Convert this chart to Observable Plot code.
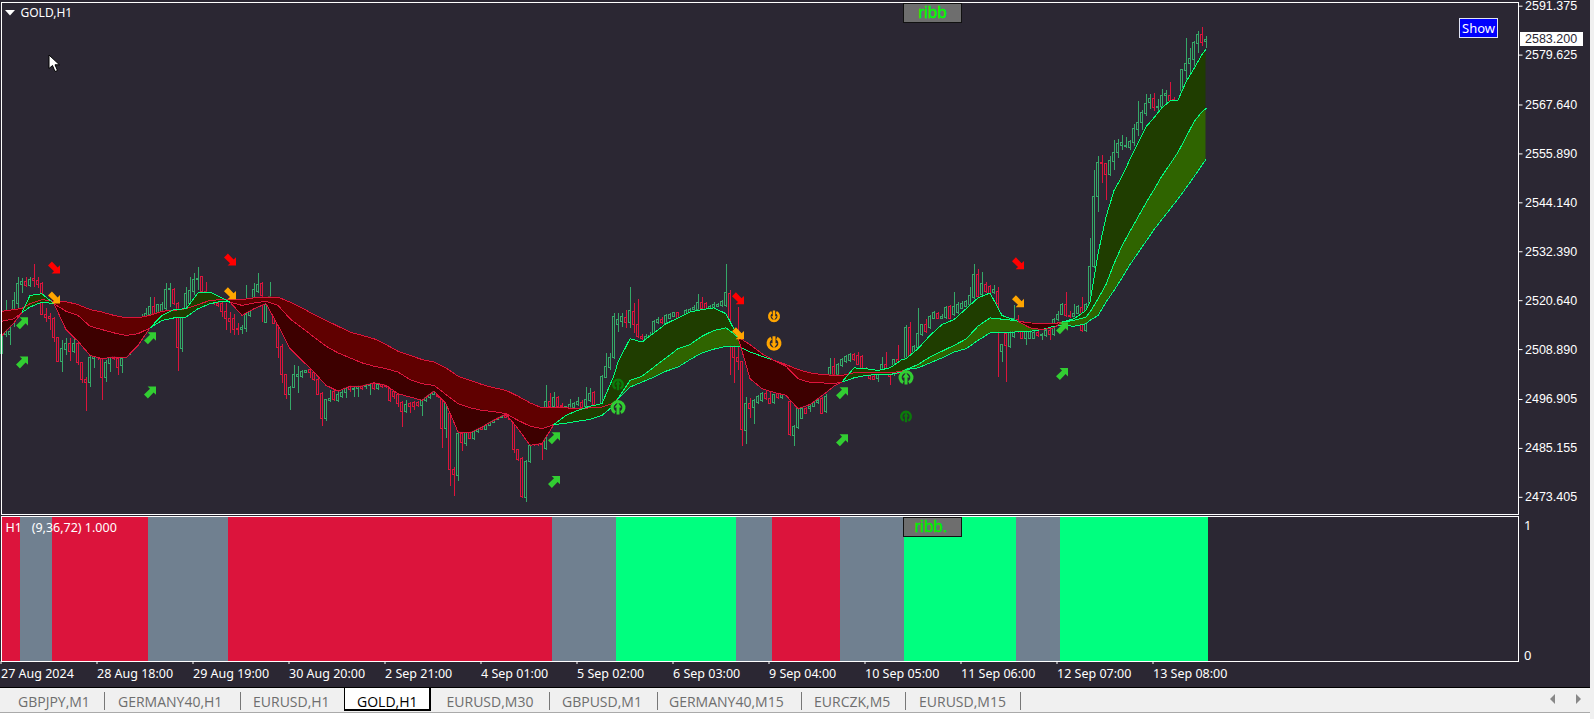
<!DOCTYPE html>
<html>
<head>
<meta charset="utf-8">
<script src="https://cdn.jsdelivr.net/npm/d3@7"></script>
<script src="https://cdn.jsdelivr.net/npm/@observablehq/plot@0.6"></script>
<style>
html,body{margin:0;padding:0;background:#fff;width:1594px;height:719px;overflow:hidden;font-family:"Noto Sans",sans-serif}
#stage{position:absolute;left:0;top:0;width:1590px;height:687px;background:#2b2733}
#stage svg{position:absolute;display:block;max-width:none}
.lab{position:absolute;white-space:nowrap}
#tabs{position:absolute;left:0;top:687px;width:1590px;height:26px;background:#f0f0f0;border-top:1px solid #000;border-bottom:1px solid #aaa;box-sizing:border-box}
#strip{position:absolute;left:1590px;top:0;width:4px;height:719px;background:#f0f0f0}
.tab{position:absolute;top:4px;font:14px "Open Sans",sans-serif;color:#6e6e6e;white-space:nowrap;line-height:19px}
.sep{position:absolute;top:4px;width:1px;height:18px;background:#777}
</style>
</head>
<body>
<div id="stage"></div>
<div id="tabs"></div>
<div id="strip"></div>
<script>
// Candles [open, high, low, close], one small list per 24-bar stretch of the time axis
const aug27 = [[2507.9,2518.3,2507.9,2512.3],[2512.3,2520.7,2511.9,2516.3],[2512.3,2516,2509.9,2513.1],[2518.3,2522.7,2514.3,2520.5],[2519.9,2526.1,2517.9,2524.7],[2524.5,2525.9,2522.3,2525.1],[2525.1,2526.1,2523.9,2524.1],[2524.1,2526.1,2523.9,2525.7],[2525.8,2529.3,2523.9,2525.3],[2525.3,2526.3,2523.5,2524.5],[2524.7,2524.9,2517.1,2517.1],[2517.3,2518.7,2515.5,2516.5],[2516.7,2517.5,2513.5,2516.3],[2516.3,2516.5,2510.5,2511.7],[2511.7,2511.9,2505.7,2505.9],[2505.9,2511.1,2503.5,2509.1],[2508.7,2511.5,2507.5,2510.3],[2510.3,2511.5,2506.1,2508.3],[2508.3,2511.5,2507.9,2510.3],[2510.3,2511.9,2505.1,2505.7],[2505.7,2505.8,2500.7,2501.7],[2501.7,2502.3,2493.9,2500.9],[2500.9,2507.5,2499.7,2506.9],[2506.7,2507.9,2504.3,2507.5]];
const aug28 = [[2507.9,2508.3,2506.3,2507.1],[2506.7,2507.5,2496.7,2502.1],[2502.1,2506.3,2500.9,2505.7],[2505.5,2507.3,2503.5,2506.9],[2507.3,2507.5,2506.3,2506.7],[2506.7,2507.1,2502.7,2504.5],[2504.9,2507.1,2503.1,2506.7],[2511.1,2512,2507.5,2507.9],[2508,2512,2507.5,2511],[2511,2513.5,2510,2513],[2513,2515,2512,2514.5],[2515,2517.2,2514,2516.5],[2516.7,2518.7,2515.5,2517.5],[2517.3,2521.5,2516.5,2519.1],[2519.1,2521.5,2517,2517.5],[2517.5,2519.8,2517,2519.5],[2517.5,2520.3,2517,2519.5],[2518.7,2524.7,2518.1,2523.1],[2523.1,2524.7,2519.1,2523.5],[2523.3,2523.5,2519.5,2519.9],[2519.9,2520.3,2503.7,2509.3],[2509.1,2518,2508.3,2517.7],[2517.5,2523.9,2517,2522.3],[2519.9,2526.3,2519,2522.9]];
const aug29 = [[2522.7,2527.1,2522,2525.5],[2525.5,2528.7,2523.1,2525.9],[2526.3,2526.5,2522.3,2522.7],[2522.7,2524.9,2521.3,2521.3],[2521.3,2522,2520,2520.5],[2520.5,2521,2519.5,2520],[2519.9,2520.3,2519.1,2519.3],[2519.9,2520.5,2516.7,2517.9],[2517.9,2519.9,2513.5,2516.3],[2516.3,2517.9,2512.7,2515.5],[2516.3,2517.3,2512.3,2513.7],[2513.9,2515.1,2512.3,2513.7],[2513.7,2514.7,2512.5,2514.1],[2513.9,2524.3,2513.1,2517.1],[2516.9,2520.9,2516.5,2518.7],[2521.3,2524.7,2520.5,2523.1],[2522.7,2527.1,2522.3,2524.5],[2524.7,2524.9,2515.5,2521.7],[2515.3,2520.5,2515.1,2519.7],[2519.9,2525.1,2519.5,2521.5],[2518.7,2520,2515,2515.1],[2516.7,2517,2506.7,2509.3],[2509.5,2510,2500.7,2502.9],[2502.9,2503,2496.9,2497.9]];
const aug30 = [[2497.9,2500,2494.3,2499.7],[2499.7,2505.1,2499.5,2502.7],[2502.3,2504.9,2498.3,2502.7],[2502.3,2503.9,2501.9,2503.5],[2503.3,2503.9,2503.1,2503.7],[2503.9,2504.3,2501.9,2503.3],[2503.3,2503.9,2501.3,2501.5],[2501.7,2503.1,2497.9,2498.1],[2498.3,2498.5,2490.3,2492.3],[2492.1,2497,2491.5,2496.7],[2496.5,2499.1,2496.3,2497.1],[2498.7,2499.1,2496.5,2496.9],[2496.5,2499,2496.1,2498.1],[2497.5,2499.1,2497.1,2498.5],[2498.5,2500.5,2497.1,2500.1],[2499.9,2500.3,2498.6,2499.1],[2499.1,2499.9,2497.5,2499.5],[2499.5,2500.3,2497.3,2499.9],[2500.1,2500.5,2499.1,2499.5],[2499.9,2500.7,2499.2,2500.3],[2500.1,2501,2497.9,2500.5],[2500.7,2501,2499,2499.5],[2499.5,2501,2499,2500.5],[2500.5,2501,2499.5,2500]];
const sep2 = [[2500.7,2501,2499.5,2499.9],[2499.5,2500.7,2496.3,2496.5],[2498.7,2499,2497,2497.5],[2497.9,2498.3,2495.1,2495.9],[2496.1,2496.5,2490.1,2493.9],[2493.9,2496.7,2493.5,2495.7],[2495.9,2496.2,2493.5,2495.1],[2496.1,2496.5,2494.3,2495.1],[2496.1,2496.4,2495,2495.3],[2495.3,2496.9,2492.9,2496.5],[2496.5,2497.8,2496.2,2497.3],[2497.3,2498.3,2497,2498],[2498,2499,2497.8,2498.6],[2498.9,2499.1,2497.1,2497.5],[2497.5,2497.7,2485.1,2489.9],[2489.7,2496.3,2487.5,2495.9],[2493.5,2495.5,2475.9,2479.9],[2479.9,2480.5,2473.5,2478.7],[2478.5,2489.1,2477.3,2488.7],[2488.7,2489,2484.3,2486.5],[2486.1,2489.2,2485.7,2488.9],[2488.9,2489.5,2487.2,2487.5],[2487.5,2489.5,2487,2489],[2489,2490.5,2488.7,2490]];
const sep4 = [[2490,2490.5,2489.5,2489.6],[2489.6,2491,2489.4,2490.6],[2490.6,2491.6,2490.4,2491.2],[2491.2,2492.5,2491.2,2492],[2492,2493,2491.8,2492.5],[2492.5,2493.2,2492.3,2493],[2493,2493.2,2492.3,2492.5],[2492.5,2492.8,2491.8,2492],[2491.1,2491.9,2483.9,2484.7],[2484.7,2485,2482,2482.3],[2482.5,2483,2473.1,2473.5],[2473.3,2482.3,2472.1,2481.9],[2481.9,2486,2481.5,2485.7],[2486.3,2487,2485.5,2486],[2486.5,2487,2485.5,2485.9],[2486.3,2486.6,2482.3,2485.9],[2485.1,2500.3,2484.7,2496.3],[2496.3,2498.3,2494.8,2495.1],[2495.1,2498.5,2494.8,2497.3],[2497.3,2497.6,2494.9,2495.1],[2495.3,2495.9,2494.9,2495],[2494.9,2495.3,2494.8,2495.1],[2494.7,2496.9,2494.5,2495.7],[2494.9,2496.3,2494.7,2495.9]];
const sep5 = [[2495.5,2497.3,2495.2,2496.3],[2496.1,2496.7,2494.7,2494.9],[2495.1,2499.7,2494.9,2496.9],[2496.5,2499.5,2496.2,2498.3],[2498.5,2498.9,2495.2,2495.5],[2495.3,2495.8,2495.2,2495.5],[2495.5,2502.7,2495.2,2502.3],[2502.1,2507.9,2501.9,2504.7],[2504.5,2507.9,2503.9,2506.9],[2506.9,2517.5,2506.5,2516.7],[2514.9,2517.5,2513,2515.9],[2515.5,2517.5,2514.3,2516.7],[2516.5,2518.3,2513.9,2515.3],[2515.3,2523.7,2513.9,2518.1],[2517.9,2519.9,2512.7,2514.9],[2514.9,2520.9,2511.5,2511.9],[2511.9,2512.5,2511,2511.5],[2511.5,2512.5,2511,2512],[2511.8,2513,2511.4,2512.2],[2512.3,2515.9,2512,2515.5],[2515.3,2516.7,2515,2515.9],[2516.1,2516.5,2515,2515.3],[2514.9,2517.3,2514.6,2516.9],[2516.3,2517.5,2516,2517.1]];
const sep6 = [[2516.7,2517.9,2516.5,2517.7],[2517.7,2517.9,2515.7,2515.9],[2516.7,2517,2515.7,2515.9],[2516.1,2518.5,2515.8,2518.1],[2516.7,2518.8,2516.5,2518.5],[2518.3,2519.5,2517.8,2518.9],[2518.5,2522.1,2518.3,2520.1],[2520.1,2521.5,2518.4,2518.7],[2519.9,2520.3,2518.2,2518.5],[2518.5,2519.4,2518.3,2519.1],[2518.7,2520.1,2518.5,2519.5],[2519.1,2520,2518.9,2519.7],[2519.3,2520.7,2519,2520.3],[2519.3,2529.3,2519,2522.5],[2522.3,2523.1,2502.7,2512.7],[2509.5,2510,2500.7,2506.9],[2506.9,2518.9,2503.9,2505.9],[2505.9,2506,2485.5,2489.5],[2489.3,2497.5,2486.1,2495.9],[2495.9,2497.1,2492.3,2494.7],[2494.9,2496.9,2490.9,2496.5],[2496.1,2497.9,2495.7,2497.5],[2496.5,2498.7,2496.2,2498.3],[2498.3,2498.8,2496.7,2497.1]];
const sep9 = [[2497.1,2498.7,2495.6,2495.9],[2496.1,2498.2,2495.8,2497.9],[2498.3,2498.7,2497,2497.3],[2497.3,2499,2497,2498.7],[2498.7,2499.3,2498.4,2499],[2496.3,2497,2487.9,2488.3],[2488.1,2490.7,2485.7,2490.3],[2490.1,2495.1,2489.8,2494.7],[2492.3,2495,2492.1,2494.7],[2494.7,2495,2493.2,2493.5],[2494.7,2495.4,2493.7,2495.1],[2495.1,2496.3,2495,2496],[2496,2496.9,2495.8,2496.5],[2497.1,2497.5,2493.3,2493.3],[2493.9,2498,2493.6,2497.5],[2502.7,2506.7,2502.4,2504.5],[2504.7,2506.7,2502.4,2502.7],[2502.7,2505.5,2502.3,2505.1],[2504.9,2506.7,2504.5,2506.3],[2505.9,2507.5,2505.6,2507.1],[2506.1,2507.9,2505.8,2507.5],[2507.5,2508,2506,2506.3],[2507.3,2508.1,2505,2505.3],[2507.1,2507.4,2504,2504.3]];
const sep10 = [[2504.3,2504.6,2503.8,2504],[2502.7,2503,2501.5,2501.9],[2502.3,2502.6,2501.4,2501.7],[2501.9,2503,2500.9,2502.7],[2503.5,2507.1,2503.2,2505.3],[2505.3,2508.1,2503.4,2503.7],[2503.1,2503.4,2500.3,2502.3],[2504,2506.6,2502.5,2506.3],[2506.3,2509.9,2502.8,2503.1],[2503.1,2504.8,2502.9,2504.5],[2503.9,2514.7,2503.5,2514.1],[2514.1,2515.5,2506.6,2506.9],[2506.7,2509.8,2506.4,2509.5],[2509.3,2518.7,2509,2512.7],[2512.3,2515,2512,2514.7],[2514.7,2516.1,2512.8,2513.1],[2514.1,2517.1,2513.8,2516.7],[2516.3,2518,2516,2517.7],[2517.5,2517.9,2516,2516.3],[2516.3,2517.2,2516,2516.7],[2516.5,2519.2,2516.2,2518.9],[2519.1,2519.5,2516,2516.3],[2517.1,2522.7,2516.8,2519.1],[2517.7,2520.3,2517.4,2519.5]];
const sep11 = [[2518.7,2520.5,2518.4,2519.9],[2519.1,2520.6,2518.8,2520.3],[2519.5,2523.9,2519.2,2521.7],[2521.3,2529.3,2521,2526.9],[2526.9,2528.1,2521.2,2521.5],[2521.9,2527.3,2521.6,2524.7],[2524.5,2525.1,2522.4,2522.7],[2523.9,2524.3,2522,2522.3],[2522.5,2524.3,2522.2,2523.1],[2522.7,2523.9,2502.3,2519.9],[2508.3,2510.2,2505.9,2509.9],[2512.7,2513,2501.1,2509.7],[2509.5,2513.2,2509.2,2512.9],[2511.9,2519.5,2511.6,2516.3],[2515.9,2517.1,2512.8,2513.1],[2513.1,2513.4,2511.2,2511.5],[2511.5,2513.4,2509.9,2513.1],[2511.5,2513.5,2511.2,2513.1],[2511.5,2513.3,2511.2,2512.9],[2512.9,2513.2,2511.8,2512.1],[2512.1,2512.8,2511.1,2512.5],[2512.1,2513.6,2511.8,2513.3],[2513.3,2513.6,2511.1,2512.5],[2512.3,2516.3,2512,2515.9]];
const sep12 = [[2515.9,2518.1,2515.6,2517.1],[2517.3,2519.9,2517,2519.6],[2519.6,2522.7,2516.6,2516.9],[2517,2518.1,2516.3,2516.6],[2516.7,2519.7,2516.5,2517.5],[2517.5,2519.5,2517.2,2519.1],[2518.9,2521.5,2513.1,2513.3],[2513.3,2520,2513.1,2519.7],[2519.9,2535.5,2519.6,2528.7],[2528.7,2552,2528.4,2545.5],[2545.5,2555.2,2541.9,2553.6],[2553.6,2555.4,2548.9,2553.4],[2553.4,2553.5,2544.7,2550.8],[2550.8,2555.2,2550.4,2554.2],[2554,2559,2552,2556],[2556,2559.4,2554.8,2558.2],[2557.8,2560.4,2556.8,2558.4],[2557.5,2559.8,2557.2,2557.7],[2557.4,2559.2,2556.8,2558.7],[2558.6,2563,2557.6,2561.8],[2561.6,2568.4,2560,2563.4],[2563.4,2566.4,2561.4,2565.8],[2565.4,2570.2,2564.8,2568],[2568.2,2570.2,2566.6,2569.2]];
const sep13 = [[2569,2570.4,2566,2566.8],[2566.8,2569,2565.8,2567.2],[2567.2,2571.4,2567,2569.9],[2569.8,2571.2,2568,2570.2],[2569.9,2573.1,2568.5,2568.6],[2568.8,2569.4,2568.5,2568.6],[2568.6,2568.8,2568.5,2568.7],[2571,2576.2,2570.8,2576],[2575.8,2583.6,2573.6,2577.6],[2577.4,2581.2,2574,2578.6],[2578.4,2582.8,2576,2582.6],[2582.4,2585.4,2580,2584.4],[2584.4,2586.2,2581.6,2582.6],[2582.8,2584,2581.2,2583.2]];

// Ribbon readings [bar, slow, mid, fast]
const ribbonLate = [[0,2518.1,2515.7,2512.3],[3,2518.5,2516.3,2515.3],[5,2518.8,2517.8,2517.8],[7,2519.9,2519.1,2521.9],[10,2520.9,2520.3,2522.3],[13,2520.5,2519.9,2519.9],[16,2520.4,2518.1,2513.7],[19,2519.7,2517.1,2510.9],[22,2518.5,2514.5,2507.5],[25,2517.9,2513.7,2506.7],[28,2517.1,2512.9,2507.1],[31,2516.5,2512.3,2506.9],[34,2516.5,2512.7,2509.9],[37,2517.1,2514.1,2514.1],[40,2518.1,2515.9,2517.1],[43,2518.3,2516.5,2518.5],[46,2518.7,2516.7,2518.7],[49,2519.7,2518.7,2522.5],[52,2520.7,2519.9,2522.7],[55,2520.9,2520.5,2521.3],[57,2520.9,2520.3,2520.3],[60,2520.9,2519.5,2517.1],[63,2521.3,2520.1,2518.7],[66,2521.5,2520.5,2519.9],[69,2521.5,2519.5,2514.7],[72,2520.3,2516.3,2509.1],[75,2518.9,2514.1,2506.3],[78,2517.3,2511.9,2503.5],[81,2515.9,2509.7,2500.3],[84,2514.5,2508.1,2498.9],[87,2513.1,2506.9,2500.1],[90,2512.3,2505.7,2500.1],[93,2511.5,2504.9,2500.9],[96,2510.1,2504.3,2500.3],[99,2508.5,2503.5,2498.3]];
const ribbonFall = [[102,2507.5,2501.7,2497.5],[105,2506.5,2500.7,2496.7],[108,2505.9,2500.3,2498.9],[111,2504.5,2498.1,2495.9],[114,2502.5,2495.9,2489.1],[117,2501.5,2494.9,2488.9],[120,2500.5,2494.3,2490.3],[123,2499.7,2494,2491.9],[126,2499.1,2493.5,2493.4],[129,2497.7,2491.9,2489.9],[132,2496.1,2490.5,2485.9],[135,2494.9,2489.9,2486.3]];
const ribbonRise = [[138,2494.9,2490.9,2490.9],[141,2494.9,2491.2,2493.1],[144,2494.7,2491.7,2494.3],[147,2494.9,2492.1,2495.3],[150,2495.1,2493.1,2495.9],[153,2496.1,2495.5,2502.7],[154,2497.1,2497.1,2505.9],[157,2499.9,2501.5,2511.5],[160,2501.1,2502.5,2510.7],[163,2502.3,2504.7,2512.9],[166,2503.7,2506.9,2515.1],[169,2504.7,2509.1,2516.5],[172,2506.5,2510.1,2517.9],[175,2508.1,2512.1,2518.5],[178,2509,2513.5,2518.9],[181,2509.7,2514.1,2517.5]];
const ribbonDip = [[184,2509.7,2511.9,2511.9],[187,2508.3,2510.1,2501.9],[190,2507.3,2507.9,2499.5],[193,2506.3,2506.3,2498.6],[196,2505.3,2504.9,2497.9],[199,2504.1,2501.9,2494.7],[202,2503.3,2501,2495.7],[205,2502.9,2500.9,2497.8],[208,2502.7,2500.7,2500.1]];
const ribbonClimb = [[210,2502.7,2501.1,2501.1],[213,2503.3,2502.1,2504.5],[216,2503.3,2502.7,2504.3],[219,2503.3,2502.9,2503.9],[222,2503.3,2502.9,2504.5],[225,2503.7,2503.5,2506.5],[226,2504.1,2504.1,2506.7],[229,2504.5,2505.3,2509.1],[232,2505.7,2507.1,2512.3],[235,2506.9,2508.5,2514.9],[238,2508.3,2509.9,2516.1],[241,2509.1,2511.4,2518.7],[244,2511.1,2514.5,2521.3],[247,2512.9,2516.5,2522.5],[250,2513.1,2516.2,2517.1],[253,2513.1,2515.9,2516],[254,2513.2,2515.7,2515.7],[257,2513.3,2515.3,2514.1],[260,2513.7,2515.1,2513.7],[263,2514.5,2515.1,2514.1]];
const ribbonSurge = [[265,2514.7,2515.5,2515.5],[268,2514.5,2515.9,2516.3],[271,2515.1,2516.7,2518.3],[272,2515.9,2517.9,2520.3],[274,2517.1,2521.1,2531.9],[276,2520.3,2524.5,2540.7],[278,2523.1,2529.5,2547.1],[280,2526.1,2533.8,2550.5],[282,2529.3,2537.3,2554.6],[284,2532.1,2540.7,2558.6],[286,2534.9,2544.1,2562.4],[288,2537.7,2547.3,2564.6],[290,2540.2,2550.6,2567],[292,2542.6,2553.4,2568.6],[294,2545.1,2556.3,2568.8],[296,2547.7,2559.9,2573.2],[298,2550.4,2563.6,2576.4],[300,2553.2,2566,2579.8],[301,2554.6,2566.8,2581]];

// Signal markers
const riseBars = [5,5,37,37,138,138,210,210,265,265];
const risePrices = [2515.2,2505.8,2511.6,2498.6,2487.6,2477.1,2498.4,2487.1,2514,2503];
const fallBars = [13,57,184,254];
const fallPrices = [2528.6,2530.5,2521.2,2529.6];
const warnBars = [13,57,184,254];
const warnPrices = [2521.4,2522.4,2512.8,2520.5];
const ringDownSmallBars = [193];
const ringDownSmallPrices = [2516.9];
const ringDownBigBars = [193];
const ringDownBigPrices = [2510.4];
const ringUpBars = [154,226];
const ringUpPrices = [2495,2502.2];
const ringFadedBars = [154,226];
const ringFadedPrices = [2500.5,2492.8];

// Axes
const priceTicks = [2591.375,2579.625,2567.64,2555.89,2544.14,2532.39,2520.64,2508.89,2496.905,2485.155,2473.405];
const timeTickBars = [0,24,48,72,96,120,144,168,192,216,240,264,288];
const timeTickLabels = ["27 Aug 2024","28 Aug 18:00","29 Aug 19:00","30 Aug 20:00","2 Sep 21:00","4 Sep 01:00","5 Sep 02:00","6 Sep 03:00","9 Sep 04:00","10 Sep 05:00","11 Sep 06:00","12 Sep 07:00","13 Sep 08:00"];

// Trend panel
const bandStarts = [0,5,13,37,57,138,154,184,193,210,226,254,265];
const bandEnds = [5,13,37,57,138,154,184,193,210,226,254,265,302];
const bandTrends = ["down","mixed","down","mixed","down","mixed","up","mixed","down","mixed","up","mixed","up"];

const tabNames = ["GBPJPY,M1","GERMANY40,H1","EURUSD,H1","GOLD,H1","EURUSD,M30","GBPUSD,M1","GERMANY40,M15","EURCZK,M5","EURUSD,M15"];

const BG = "#2b2733", UP = "#35a868", DOWN = "#dc143c", LINEUP = "#00ff7f";
const candles = [...aug27,...aug28,...aug29,...aug30,...sep2,...sep4,...sep5,...sep6,...sep9,...sep10,...sep11,...sep12,...sep13]
  .map(([o,h,l,c],i)=>({i,o,h,l,c,col:c>=o?UP:DOWN}));
const ribbon = [...ribbonLate,...ribbonFall,...ribbonRise,...ribbonDip,...ribbonClimb,...ribbonSurge]
  .map(([i,s,m,f])=>({i,s,m,f}));

// Split a pair of series into runs that keep one sign, sharing the knot where the sign flips
function runs(upper, lower){
  const out=[]; let run=0, prev=null;
  for(let k=0;k<ribbon.length-1;k++){
    const a=ribbon[k], b=ribbon[k+1];
    const sign=(upper(a)+upper(b))>=(lower(a)+lower(b));
    if(prev!==null && sign!==prev) run++;
    prev=sign;
    out.push({run:run+"",sign,i:a.i,u:upper(a),l:lower(a)});
    const nextSign = k+2<ribbon.length ? (upper(b)+upper(ribbon[k+2]))>=(lower(b)+lower(ribbon[k+2])) : sign;
    if(nextSign!==sign || k===ribbon.length-2) out.push({run:run+"",sign,i:b.i,u:upper(b),l:lower(b)});
  }
  return out;
}
const fastMid = runs(d=>d.f,d=>d.m);
const midSlow = runs(d=>d.m,d=>d.s);

// Marker glyphs
const poly=(ctx,r,pts)=>{pts.forEach(([x,y],j)=>j?ctx.lineTo(x*r,y*r):ctx.moveTo(x*r,y*r));ctx.closePath();};
const neShape=[[-.4,-1],[1,-1],[1,.4],[.6,0],[-.35,1],[-1,.35],[0,-.6]];
const arrowNE={draw(ctx,size){poly(ctx,Math.sqrt(size/Math.PI),neShape);}};
const arrowSE={draw(ctx,size){poly(ctx,Math.sqrt(size/Math.PI),neShape.map(([x,y])=>[x,-y]));}};
function ring(dir){return {draw(ctx,size){
  const r=Math.sqrt(size/Math.PI), gap=0.5;
  const mid=dir<0?Math.PI/2:-Math.PI/2;
  const a0=mid+gap, a1=mid+2*Math.PI-gap;
  ctx.moveTo(r*Math.cos(a0),r*Math.sin(a0));
  ctx.arc(0,0,r,a0,a1,false);
  const ri=r*0.58;
  ctx.lineTo(ri*Math.cos(a1),ri*Math.sin(a1));
  ctx.arc(0,0,ri,a1,a0,true);
  ctx.closePath();
  const s=dir<0?1:-1;
  poly(ctx,r,[[-.2,.95*s],[.2,.95*s],[.2,0],[.46,0],[0,-.62*s],[-.46,0],[-.2,0]]);
}};}
const ringUp=ring(-1), ringDown=ring(1);
const zipped=(xs,ys)=>xs.map((x,k)=>({x,y:ys[k]}));

const xScale={domain:[-0.125,379],range:[2,1518.5],axis:null};
const baseStyle={background:"transparent",color:"#fff",fontFamily:'"Noto Sans",sans-serif',fontSize:"13px",overflow:"visible"};

const fmFill=d=>d.sign?"#1f3d00":"#3d0000";
const msFill=d=>d.sign?"#2f6400":"#600000";
const lineCol=d=>d.sign?LINEUP:DOWN;

const main=Plot.plot({
  width:1594,height:515,marginLeft:2,marginRight:75.5,marginTop:2.5,marginBottom:.5,
  style:baseStyle,
  x:xScale,
  y:{domain:[2469.4,2592.38],axis:null},
  color:{type:"identity"},
  marks:[
    Plot.ruleX(candles,{x:"i",y1:"l",y2:"h",stroke:"col",strokeWidth:1,shapeRendering:"crispEdges"}),
    Plot.rect(candles,{x1:d=>d.i-.25,x2:d=>d.i+.25,y1:"o",y2:"c",fill:BG,stroke:"col",strokeWidth:1,shapeRendering:"crispEdges"}),
    Plot.areaY(midSlow,{x:"i",y1:"u",y2:"l",z:"run",fill:msFill}),
    Plot.areaY(fastMid,{x:"i",y1:"u",y2:"l",z:"run",fill:fmFill}),
    Plot.line(midSlow,{x:"i",y:"l",z:"run",stroke:lineCol,strokeWidth:1,shapeRendering:"crispEdges"}),
    Plot.line(fastMid,{x:"i",y:"l",z:"run",stroke:lineCol,strokeWidth:1,shapeRendering:"crispEdges"}),
    Plot.line(fastMid,{x:"i",y:"u",z:"run",stroke:lineCol,strokeWidth:1,shapeRendering:"crispEdges"}),
    Plot.dot(zipped(riseBars,risePrices),{x:"x",y:"y",symbol:arrowNE,r:6,fill:"#32cd32",stroke:"none"}),
    Plot.dot(zipped(fallBars,fallPrices),{x:"x",y:"y",symbol:arrowSE,r:6,fill:"#ff0000",stroke:"none"}),
    Plot.dot(zipped(warnBars,warnPrices),{x:"x",y:"y",symbol:arrowSE,r:6,fill:"#ffa500",stroke:"none"}),
    Plot.dot(zipped(ringDownSmallBars,ringDownSmallPrices),{x:"x",y:"y",symbol:ringDown,r:6,fill:"#ffa500",stroke:"none"}),
    Plot.dot(zipped(ringDownBigBars,ringDownBigPrices),{x:"x",y:"y",symbol:ringDown,r:7.5,fill:"#ffa500",stroke:"none"}),
    Plot.dot(zipped(ringUpBars,ringUpPrices),{x:"x",y:"y",symbol:ringUp,r:7.5,fill:"#32cd32",stroke:"none"}),
    Plot.dot(zipped(ringFadedBars,ringFadedPrices),{x:"x",y:"y",symbol:ringUp,r:6,fill:"#0b7a0b",stroke:"none"}),
    Plot.frame({stroke:"#fff",strokeWidth:1,shapeRendering:"crispEdges"}),
    Plot.axisY(priceTicks,{anchor:"right",tickFormat:d3.format(".3f"),tickSize:4,tickPadding:3,stroke:"#fff",fill:"#fff",label:null,fontSize:12.5,fontFamily:"'Liberation Sans',sans-serif"})
  ]
});
main.style.top="-1px";
main.style.left="-1px";

const bandColor={down:DOWN,mixed:"#708090",up:LINEUP};
const bands=bandStarts.map((s,k)=>({s,e:bandEnds[k],t:bandTrends[k]}));
const panel=Plot.plot({
  width:1594,height:170,marginLeft:2,marginRight:75.5,marginTop:.5,marginBottom:24,
  style:baseStyle,
  x:xScale,
  y:{domain:[-0.056,1.0677],axis:null},
  color:{type:"identity"},
  marks:[
    Plot.rect(bands,{x1:d=>Math.max(d.s-.5,-0.125),x2:d=>d.e-.5,fill:d=>bandColor[d.t],shapeRendering:"crispEdges"}),
    Plot.text(["H1   (9,36,72) 1.000"],{frameAnchor:"top-left",dx:4,dy:7,fill:"#fff",textAnchor:"start",fontSize:12.5,text:d=>d}),
    Plot.frame({stroke:"#fff",strokeWidth:1,shapeRendering:"crispEdges"}),
    Plot.axisY([0,1],{anchor:"right",tickSize:0,tickPadding:6,dy:1.5,stroke:"#fff",fill:"#fff",label:null,fontSize:13,tickFormat:d=>String(d)}),
    Plot.axisX(timeTickBars,{anchor:"bottom",tickSize:3,tickPadding:5,textAnchor:"start",dx:-1,stroke:"#fff",fill:"#fff",label:null,fontSize:12.5,
      tickFormat:d=>timeTickLabels[timeTickBars.indexOf(d)]})
  ]
});
panel.style.top="515px";
panel.style.left="-1px";

const stage=document.getElementById("stage");
stage.append(main,panel);

// Chrome around the chart
function lab(text,css){const d=document.createElement("div");d.className="lab";d.textContent=text;d.style.cssText+=css;stage.append(d);return d;}
lab("GOLD,H1","left:20.5px;top:4px;color:#fff;font:12px/17px 'Noto Sans',sans-serif;");
lab("2583.200","left:1520px;top:32px;width:63px;height:14px;background:#fff;color:#2b2733;font:12.5px/14px 'Liberation Sans',sans-serif;text-indent:5px;");
lab("Show","left:1459px;top:18px;width:37px;height:18px;background:#0000ff;border:1px solid #dfe3f5;color:#fff;text-align:center;font:13px/18px 'Noto Sans',sans-serif;");
lab("ribb","left:903px;top:3px;width:57px;height:18px;background:#6e6e6e;border:1px solid #111;color:#00ff00;text-align:center;font:17px/18px 'Liberation Sans',sans-serif;-webkit-text-stroke:.3px #00ff00;");
lab("ribb.","left:903px;top:517px;width:57px;height:18px;background:#6e6e6e;border:1px solid #111;color:#00f000;text-align:center;text-indent:-3px;font:17px/18px 'Liberation Sans',sans-serif;-webkit-text-stroke:.3px #00f000;");
const tri=document.createElementNS("http://www.w3.org/2000/svg","svg");
tri.setAttribute("width","10");tri.setAttribute("height","6");tri.style.cssText="position:absolute;left:5px;top:10px;";
tri.innerHTML='<path d="M0 0H10L5 5.5Z" fill="#fff"/>';stage.append(tri);
const cur=document.createElementNS("http://www.w3.org/2000/svg","svg");
cur.setAttribute("width","14");cur.setAttribute("height","20");cur.style.cssText="position:absolute;left:48px;top:54px;";
cur.innerHTML='<path d="M1 1V14.5L4.5 11.5L7 17.5L9.5 16.5L7 10.8H11.5Z" fill="#fff" stroke="#000" stroke-width="1"/>';stage.append(cur);

const tabs=document.getElementById("tabs");
const tabX=[18,118,253,357,446.5,562,669,814,919];
const seps=[104,240,549,657,800.5,905,1020];
tabNames.forEach((n,k)=>{
  const d=document.createElement("div");d.className="tab";d.textContent=n;d.style.left=tabX[k]+"px";
  if(n==="GOLD,H1"){d.style.color="#000";}
  tabs.append(d);
});
seps.forEach(x=>{const d=document.createElement("div");d.className="sep";d.style.left=x+"px";tabs.append(d);});
const act=document.createElement("div");
act.style.cssText="position:absolute;left:344px;top:-1px;width:87px;height:24px;background:#fff;border:1px solid #000;border-bottom:2px solid #000;border-right:2px solid #000;box-sizing:border-box;";
tabs.insertBefore(act,tabs.firstChild);
const arrows=document.createElementNS("http://www.w3.org/2000/svg","svg");
arrows.setAttribute("width","40");arrows.setAttribute("height","12");arrows.style.cssText="position:absolute;left:1548px;top:5px;";
arrows.innerHTML='<path d="M7 1V11L2 6Z" fill="#888"/><path d="M28 1V11L33 6Z" fill="#888"/>';tabs.append(arrows);
</script>
</body>
</html>
